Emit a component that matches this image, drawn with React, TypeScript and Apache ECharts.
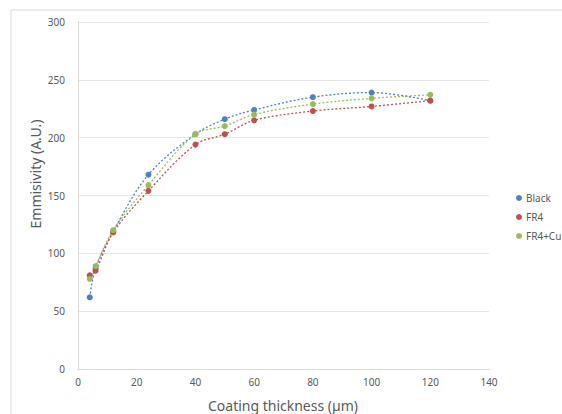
import React, { useEffect, useRef } from "react";
import * as echarts from "echarts";

const thickness = [4, 6, 12, 24, 40, 50, 60, 80, 100, 120];
const black = [62, 87, 119, 168, 203, 216, 224, 235, 239, 232];
const fr4 = [81, 85, 118, 154, 194, 203, 215, 223, 227, 232];
const fr4cu = [78, 89, 120, 159, 203, 210, 220, 229, 234, 237];
const seriesNames = ["Black", "FR4", "FR4+Cu"];
const seriesColors = ["#4F81BD", "#C0504D", "#9BBB59"];
const xTitle = "Coating thickness (µm)";
const yTitle = "Emmisivity (A.U.)";

export default function App() {
  const ref = useRef<HTMLDivElement>(null);
  useEffect(() => {
    document.body.style.margin = "0";
    const chart = echarts.init(ref.current!, null, { renderer: "svg" });
    const values = [black, fr4, fr4cu];
    const font = "Noto Sans";
    chart.setOption({
      animation: false,
      backgroundColor: "#ffffff",
      textStyle: { fontFamily: font },
      grid: { left: 78, right: 73, top: 22, bottom: 45 },
      legend: {
        orient: "vertical",
        left: 511,
        top: 188,
        icon: "circle",
        itemWidth: 6,
        itemHeight: 6,
        itemGap: 9,
        textStyle: { color: "#595959", fontSize: 10, fontFamily: font, padding: [0, 0, 0, -1] },
        data: seriesNames,
      },
      xAxis: {
        type: "value",
        min: 0,
        max: 140,
        interval: 20,
        axisLine: { show: true, lineStyle: { color: "#d9d9d9" } },
        axisTick: { show: false },
        splitLine: { show: false },
        axisLabel: { color: "#595959", fontSize: 10, margin: 8 },
      },
      yAxis: {
        type: "value",
        min: 0,
        max: 300,
        interval: 50,
        axisLine: { show: true, lineStyle: { color: "#d9d9d9" } },
        axisTick: { show: false },
        splitLine: { show: true, lineStyle: { color: "#e6e6e6" } },
        axisLabel: { color: "#595959", fontSize: 10, margin: 13 },
      },
      graphic: [
        {
          type: "rect",
          shape: { x: 11, y: 10, width: 700, height: 600 },
          style: { fill: "none", stroke: "#d9d9d9", lineWidth: 1 },
          silent: true,
          z: -10,
        },
        {
          type: "text",
          x: 283,
          y: 405,
          style: {
            text: xTitle,
            fill: "#595959",
            fontSize: 14,
            fontFamily: font,
            align: "center",
            verticalAlign: "middle",
          },
        },
        {
          type: "text",
          x: 35,
          y: 174,
          rotation: Math.PI / 2,
          style: {
            text: yTitle,
            fill: "#595959",
            fontSize: 14,
            fontFamily: font,
            align: "center",
            verticalAlign: "middle",
          },
        },
      ],
      series: seriesNames.map((name, i) => ({
        name,
        type: "line",
        data: thickness.map((x, j) => [x, values[i][j]]),
        smooth: 0.35,
        symbol: "circle",
        symbolSize: 6,
        showSymbol: true,
        itemStyle: { color: seriesColors[i] },
        lineStyle: { color: seriesColors[i], width: 1.3, type: [2, 2] },
      })),
    });
    return () => chart.dispose();
  }, []);
  return <div ref={ref} style={{ width: 562, height: 414 }} />;
}
